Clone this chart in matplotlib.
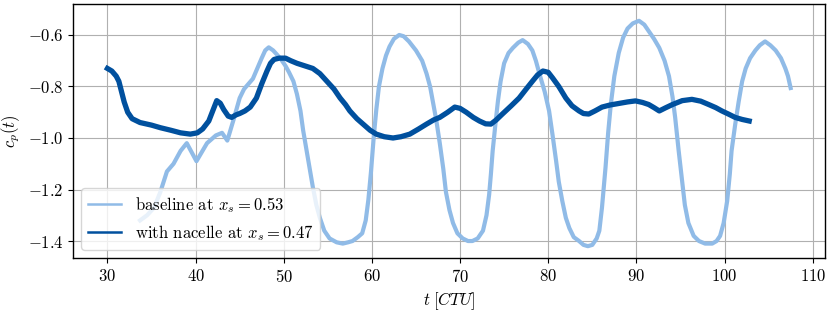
import matplotlib
matplotlib.use('Agg')
import matplotlib.pyplot as plt

# Values
base_t = [33.7, 34.5, 35.3, 36.0, 36.75, 37.5, 38.3, 39.0, 40.1, 41.3, 42.3, 43.0, 43.6,
          44.3, 45.0, 45.5, 46.5, 47.0, 47.5, 47.9, 48.3, 48.8, 49.2, 49.7, 50.2, 50.6,
          51.1, 51.5, 51.9, 52.2, 52.6, 53.0, 53.3, 53.7, 54.1, 54.6, 55.2, 56.0, 56.7,
          57.3, 57.8, 58.4, 58.9, 59.3, 59.6, 59.9, 60.2, 60.5, 60.8, 61.2, 61.6, 62.0,
          62.5, 63.1, 63.6, 64.2, 65.0, 65.7, 66.2, 66.6, 66.9, 67.3, 67.7, 68.1, 68.4,
          68.8, 69.2, 69.7, 70.3, 70.9, 71.4, 72.0, 72.6, 73.0, 73.3, 73.5, 73.7, 74.0,
          74.3, 74.6, 75.0, 75.5, 76.0, 76.6, 77.1, 77.7, 78.2, 78.6, 79.0, 79.6, 80.1,
          80.5, 80.9, 81.2, 81.6, 82.0, 82.4, 82.9, 83.5, 84.0, 84.5, 85.0, 85.5, 85.8,
          86.1, 86.5, 86.8, 87.1, 87.5, 88.0, 88.5, 89.0, 89.6, 90.3, 90.9, 91.4, 92.0,
          92.6, 93.2, 93.7, 94.1, 94.4, 94.8, 95.2, 95.5, 95.9, 96.5, 97.1, 97.8, 98.6,
          99.1, 99.5, 99.9, 100.3, 100.6, 100.8, 101.2, 101.6, 102.0, 102.4, 102.9, 103.5,
          104.0, 104.6, 105.2, 105.8, 106.4, 106.9, 107.2, 107.5]
base_cp = [-1.32, -1.30, -1.27, -1.21, -1.13, -1.10, -1.05, -1.02, -1.09, -1.02, -0.99, -0.98, -1.01,
           -0.93, -0.845, -0.81, -0.77, -0.73, -0.69, -0.66, -0.648, -0.66, -0.675, -0.695, -0.72, -0.745,
           -0.78, -0.83, -0.895, -0.97, -1.05, -1.13, -1.19, -1.26, -1.31, -1.36, -1.39, -1.405, -1.41,
           -1.405, -1.40, -1.385, -1.37, -1.32, -1.24, -1.13, -1.00, -0.89, -0.80, -0.73, -0.68, -0.645,
           -0.615, -0.600, -0.605, -0.625, -0.66, -0.70, -0.75, -0.80, -0.856, -0.93, -1.02, -1.12, -1.21,
           -1.28, -1.33, -1.37, -1.39, -1.40, -1.40, -1.39, -1.36, -1.30, -1.22, -1.14, -1.05, -0.95,
           -0.856, -0.78, -0.71, -0.67, -0.65, -0.63, -0.62, -0.635, -0.66, -0.70, -0.75, -0.82, -0.895,
           -0.99, -1.09, -1.17, -1.245, -1.31, -1.35, -1.385, -1.40, -1.415, -1.42, -1.415, -1.39, -1.36,
           -1.27, -1.115, -0.98, -0.87, -0.76, -0.67, -0.61, -0.575, -0.555, -0.545, -0.56, -0.585, -0.615,
           -0.65, -0.70, -0.76, -0.84, -0.92, -1.05, -1.17, -1.26, -1.33, -1.38, -1.40, -1.41, -1.41,
           -1.40, -1.38, -1.33, -1.245, -1.14, -1.05, -0.95, -0.86, -0.78, -0.73, -0.69, -0.66,
           -0.64, -0.625, -0.64, -0.66, -0.69, -0.73, -0.76, -0.806]

nac_t = [30.0, 30.5, 31.0, 31.3, 31.6, 31.9, 32.3, 32.8, 33.7, 35.0, 36.0, 37.2, 38.3, 39.4,
         40.2, 40.8, 41.5, 42.0, 42.4, 42.8, 43.2, 43.7, 44.1, 44.6, 45.0, 45.6, 46.2, 46.9,
         47.5, 48.1, 48.5, 48.9, 49.5, 50.2, 50.8, 51.5, 52.4, 53.3, 54.1, 54.9, 55.7, 56.4,
         57.0, 57.5, 58.3, 59.0, 59.8, 60.5, 61.4, 62.4, 63.3, 64.3, 65.3, 66.2, 67.0, 67.7,
         68.6, 69.4, 70.0, 70.7, 71.5, 72.2, 72.9, 73.5, 74.1, 74.8, 75.8, 76.7, 77.5, 78.2,
         78.8, 79.4, 80.0, 80.5, 81.2, 82.0, 82.7, 83.5, 84.0, 84.6, 85.3, 86.1, 87.0, 88.0,
         89.0, 89.9, 90.7, 91.4, 92.0, 92.6, 93.3, 94.1, 95.2, 96.3, 97.3, 98.2, 99.0, 99.7,
         100.5, 101.2, 102.0, 102.8]
nac_cp = [-0.73, -0.74, -0.76, -0.78, -0.82, -0.86, -0.90, -0.925, -0.94, -0.95, -0.96, -0.97, -0.98, -0.985,
          -0.98, -0.965, -0.934, -0.89, -0.855, -0.865, -0.89, -0.915, -0.92, -0.91, -0.905, -0.895, -0.88, -0.845,
          -0.79, -0.74, -0.71, -0.695, -0.69, -0.69, -0.70, -0.71, -0.72, -0.73, -0.75, -0.78, -0.81, -0.845,
          -0.87, -0.895, -0.925, -0.946, -0.97, -0.985, -0.995, -1.0, -0.995, -0.985, -0.965, -0.946, -0.93, -0.92,
          -0.90, -0.88, -0.885, -0.90, -0.92, -0.934, -0.945, -0.946, -0.93, -0.907, -0.875, -0.845, -0.81, -0.78,
          -0.755, -0.74, -0.745, -0.767, -0.80, -0.845, -0.875, -0.895, -0.905, -0.907, -0.895, -0.88, -0.872, -0.866,
          -0.86, -0.856, -0.862, -0.87, -0.882, -0.895, -0.883, -0.87, -0.855, -0.85, -0.857, -0.87, -0.882, -0.895,
          -0.908, -0.92, -0.928, -0.934]

labels = [r'baseline at $x_s = 0.53$', r'with nacelle at $x_s = 0.47$']

plt.rcParams['font.family'] = 'serif'
plt.rcParams['font.serif'] = ['cmr10']
plt.rcParams['mathtext.fontset'] = 'cm'
plt.rcParams['axes.formatter.use_mathtext'] = True
plt.rcParams['font.size'] = 12

fig, ax = plt.subplots(figsize=(8.3, 3.12), dpi=100)
fig.subplots_adjust(left=0.088, right=0.994, top=0.987, bottom=0.173)

# thick lines stand in for the noisy band of the raw signal
ax.plot(base_t, base_cp, color='#90bbe7', lw=3.0, solid_joinstyle='round', label=labels[0])
ax.plot(nac_t, nac_cp, color='#00509e', lw=3.8, solid_joinstyle='round', label=labels[1])

ax.set_xlabel(r'$t\;[CTU]$')
ax.set_ylabel(r'$c_p(t)$')
ax.set_xticks([30, 40, 50, 60, 70, 80, 90, 100, 110])
ax.set_yticks([-1.4, -1.2, -1.0, -0.8, -0.6])
ax.set_xlim(26.1, 111.4)
ax.set_ylim(-1.466, -0.48)
ax.grid(True, color='#b0b0b0', linewidth=0.8)
ax.set_axisbelow(True)
for sp in ax.spines.values():
    sp.set_linewidth(1.0)

leg = ax.legend(loc='lower left')
for line in leg.get_lines():
    line.set_linewidth(1.8)

fig.savefig('out.png')
